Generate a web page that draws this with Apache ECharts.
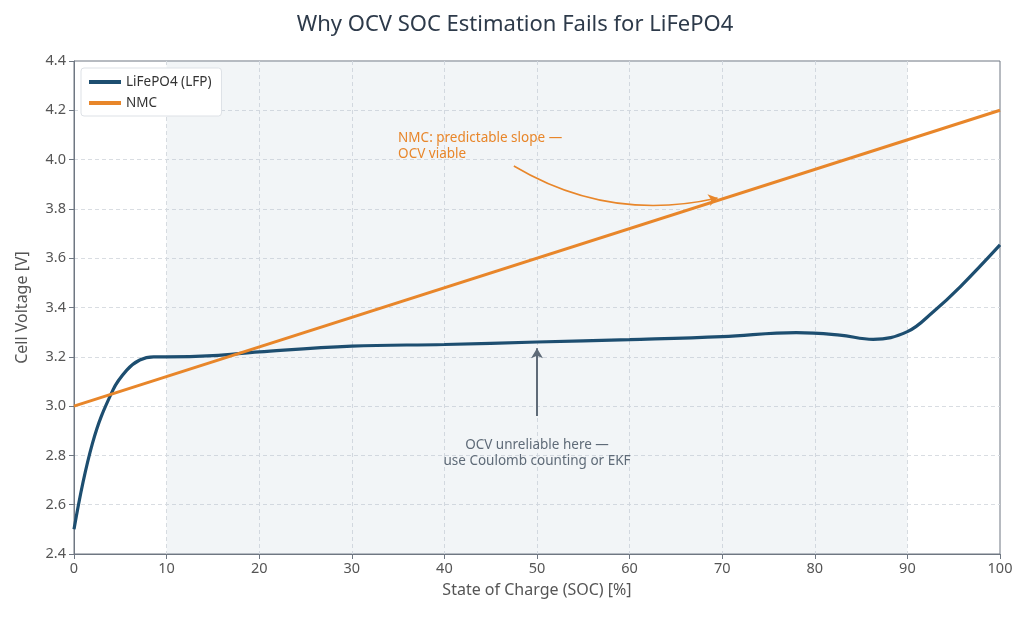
<!DOCTYPE html>
<html>
<head>
<meta charset="utf-8">
<script src="https://cdn.jsdelivr.net/npm/echarts@6/dist/echarts.min.js"></script>
<style>
  html, body { margin: 0; padding: 0; background: #fff; }
  #chart { width: 1030px; height: 618px; }
</style>
</head>
<body>
<div id="chart"></div>
<script>
// SOC [%] -> cell voltage [V]
const lfpSoc = [0, 2, 4.2, 5.7, 7.1, 8.6, 10, 15, 20, 30, 40, 50, 60, 70, 78, 82.7, 86.3, 90, 92.8, 95.7, 100];
const lfpVolt = [2.5, 2.85, 3.065, 3.146, 3.187, 3.2, 3.2, 3.205, 3.22, 3.243, 3.25, 3.26, 3.27, 3.282, 3.298, 3.288, 3.271, 3.302, 3.383, 3.484, 3.654];
const nmcSoc = [0, 100];
const nmcVolt = [3.0, 4.2];
const flatZone = [10, 90];
const xTicks = { min: 0, max: 100, step: 10 };
const yTicks = { min: 2.4, max: 4.4, step: 0.2 };

// annotation anchors (data coordinates)
const nmcArrow = [[47.5, 3.974], [69.5, 3.844]];
const nmcNote = [35.0, 4.055];
const lfpArrow = [[50, 2.96], [50, 3.235]];
const lfpNote = [50, 2.81];

const pairs = (xs, ys) => xs.map((x, i) => [x, ys[i]]);

const FONT = 'Noto Sans';
const AXIS = '#6f7782';
const chart = echarts.init(document.getElementById('chart'));

const noteLabel = (text, color, align) => ({
  show: true,
  position: 'inside',
  formatter: text,
  color: color,
  fontSize: 13.5,
  lineHeight: 16,
  align: align,
  verticalAlign: 'middle'
});

const grid = { color: '#d9dde2', type: [4, 3] };

chart.setOption({
  backgroundColor: '#fff',
  textStyle: { fontFamily: FONT },
  title: {
    text: 'Why OCV SOC Estimation Fails for LiFePO4',
    left: 'center',
    top: 9,
    textStyle: { fontSize: 22, fontWeight: 'normal', color: '#2d3a4a', fontFamily: FONT }
  },
  legend: {
    orient: 'vertical',
    left: 81,
    top: 68,
    padding: [7, 10, 6, 8],
    itemGap: 7,
    itemWidth: 32,
    itemHeight: 4,
    icon: 'rect',
    backgroundColor: '#fff',
    borderColor: '#dde1e6',
    borderWidth: 1,
    borderRadius: 3,
    textStyle: { fontSize: 13.5, color: '#333' },
    data: ['LiFePO4 (LFP)', 'NMC']
  },
  grid: {
    left: 74, right: 30, top: 61, bottom: 64,
    show: true, borderColor: AXIS, borderWidth: 1
  },
  xAxis: {
    type: 'value',
    min: xTicks.min, max: xTicks.max, interval: xTicks.step,
    name: 'State of Charge (SOC) [%]',
    nameLocation: 'middle',
    nameGap: 28,
    nameTextStyle: { fontSize: 16, color: '#555' },
    axisLine: { lineStyle: { color: AXIS } },
    axisTick: { show: true, length: 5, lineStyle: { color: AXIS } },
    axisLabel: { fontSize: 14.5, color: '#555', margin: 7 },
    splitLine: { show: true, showMinLine: false, showMaxLine: false, lineStyle: grid }
  },
  yAxis: {
    type: 'value',
    min: yTicks.min, max: yTicks.max, interval: yTicks.step,
    name: 'Cell Voltage [V]',
    nameLocation: 'middle',
    nameGap: 44,
    nameTextStyle: { fontSize: 16, color: '#555' },
    axisLine: { show: true, lineStyle: { color: AXIS } },
    axisTick: { show: true, length: 5, lineStyle: { color: AXIS } },
    axisLabel: { fontSize: 14.5, color: '#555', margin: 8, formatter: v => v.toFixed(1) },
    splitLine: { show: true, showMinLine: false, showMaxLine: false, lineStyle: grid }
  },
  series: [
    {
      name: 'LiFePO4 (LFP)',
      type: 'line',
      data: pairs(lfpSoc, lfpVolt),
      smooth: 0.4,
      showSymbol: false,
      z: 3,
      lineStyle: { color: '#1d4e70', width: 3.2 },
      itemStyle: { color: '#1d4e70' },
      markArea: {
        silent: true,
        itemStyle: { color: 'rgba(180,195,210,0.17)' },
        data: [[{ xAxis: flatZone[0] }, { xAxis: flatZone[1] }]]
      },
      markLine: {
        silent: true,
        symbol: ['none', 'arrow'],
        symbolSize: [9, 10],
        label: { show: false },
        lineStyle: { color: '#5f6b78', width: 2, type: 'solid' },
        data: [[{ coord: lfpArrow[0] }, { coord: lfpArrow[1] }]]
      },
      markPoint: {
        silent: true,
        symbol: 'circle',
        symbolSize: 0,
        data: [{
          coord: lfpNote,
          label: noteLabel('OCV unreliable here —\nuse Coulomb counting or EKF', '#5f6b78', 'center')
        }]
      }
    },
    {
      name: 'NMC',
      type: 'line',
      data: pairs(nmcSoc, nmcVolt),
      showSymbol: false,
      z: 4,
      lineStyle: { color: '#e8862a', width: 3 },
      itemStyle: { color: '#e8862a' },
      markPoint: {
        silent: true,
        symbol: 'circle',
        symbolSize: 0,
        data: [{
          coord: nmcNote,
          label: noteLabel('NMC: predictable slope —\nOCV viable', '#e8862a', 'left')
        }]
      }
    },
    {
      name: 'nmc-arrow',
      type: 'lines',
      coordinateSystem: 'cartesian2d',
      silent: true,
      z: 5,
      symbol: ['none', 'arrow'],
      symbolSize: 9,
      lineStyle: { color: '#e8862a', width: 1.5, opacity: 1, curveness: -0.2 },
      data: [{ coords: nmcArrow }]
    }
  ]
});
</script>
</body>
</html>
